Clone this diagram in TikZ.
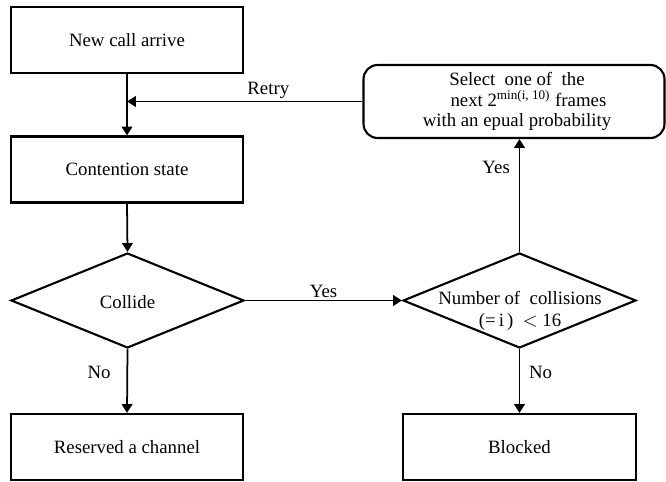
\documentclass[tikz,border=0pt]{standalone}
\usepackage{fontspec}
\setmainfont{Liberation Serif}
\usetikzlibrary{shapes.geometric,arrows.meta}
\begin{document}
\begin{tikzpicture}[x=0.02cm,y=-0.02cm,
  every node/.style={font=\fontsize{10.7}{12.5}\selectfont},
  box/.style={draw,line width=1.2pt,minimum width=4.64cm,minimum height=1.32cm,inner sep=0pt},
  dia/.style={draw,diamond,line width=1.2pt,inner sep=0pt,minimum width=4.66cm,minimum height=1.9cm},
  rbox/.style={draw,line width=1.2pt,rounded corners=8pt,minimum width=6.02cm,minimum height=1.46cm,inner sep=0pt},
  arr/.style={line width=1pt,-{Triangle[length=5pt,width=6pt]}},
  lbl/.style={inner sep=1pt}]
\useasboundingbox (0,0) rectangle (666,482);
\node[box] (new) at (127,40) {New call arrive};
\node[box] (cont) at (127,169.5) {Contention state};
\node[dia] (col) at (127.5,300.5) {};
\node at (127.5,302) (colt) {Collide};
\node[dia] (num) at (519.5,300.5) {};
\node[align=center] at (520,311) (numt) {Number of\ \ collisions\\(=\,i\,)\ \ $<$ 16};
\node[rbox] (sel) at (514,101.5) {};
\node[align=center,font=\fontsize{10.7}{11.6}\selectfont] at (517,101.5) (selt) {Select\ \ one of\ \ the\\\hspace*{13pt}next 2\textsuperscript{min(i, 10)} frames\\with an epual probability};
\node[box] (res) at (127,447) {Reserved a channel};
\node[box,minimum width=4.66cm] (blk) at (519.5,447) {Blocked};
\coordinate (join) at (127,101.5);
\draw[arr] (new.south) -- (cont.north);
\draw[arr] (sel.west) -- (join) node[lbl,pos=0.4,above] {Retry};
\draw[arr] (cont.south) -- (col.north);
\draw[arr] (col.east) -- (num.west) node[lbl,midway,above] {Yes};
\draw[arr] (col.south) -- (res.north) node[lbl,pos=0.36,left,xshift=-8pt] {No};
\draw[arr] (num.north) -- (num.north |- sel.south) node[lbl,pos=0.75,left,xshift=-4pt] {Yes};
\draw[arr] (num.south) -- (blk.north) node[lbl,pos=0.36,right,xshift=4pt] {No};
\end{tikzpicture}
\end{document}
